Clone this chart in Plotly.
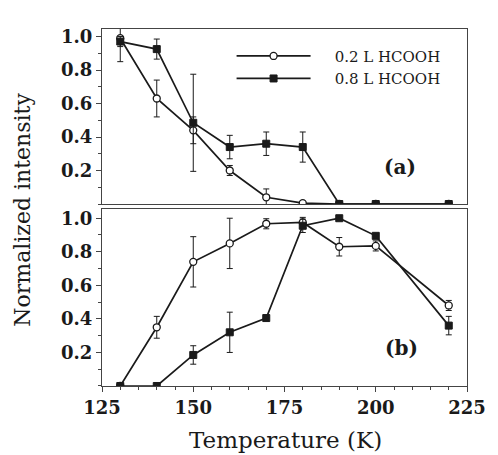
import plotly.graph_objects as go

# ---- data ----
temps = [130, 140, 150, 160, 170, 180, 190, 200, 220]

# panel (a)
a_low = [0.99, 0.63, 0.44, 0.20, 0.04, 0.005, 0.0, 0.0, 0.0]
a_low_err = [0.14, 0.11, 0.08, 0.03, 0.05, 0.0, 0.0, 0.0, 0.0]
a_high = [0.97, 0.925, 0.485, 0.34, 0.36, 0.34, 0.0, 0.0, 0.0]
a_high_err = [0.03, 0.06, 0.29, 0.07, 0.07, 0.09, 0.0, 0.0, 0.0]

# panel (b)
b_low = [0.0, 0.35, 0.74, 0.85, 0.967, 0.975, 0.83, 0.835, 0.48]
b_low_err = [0.0, 0.065, 0.15, 0.15, 0.03, 0.03, 0.055, 0.03, 0.03]
b_high = [0.0, 0.0, 0.185, 0.32, 0.405, 0.955, 1.0, 0.895, 0.36]
b_high_err = [0.0, 0.0, 0.055, 0.12, 0.0, 0.04, 0.0, 0.0, 0.055]

labels = ["0.2 L HCOOH", "0.8 L HCOOH"]
x_ticks = [125, 150, 175, 200, 225]
y_ticks = [0.2, 0.4, 0.6, 0.8, 1.0]

FONT = "DejaVu Serif"
INK = "#1a1a1a"
FRAME = "#444444"
PAD = "\u00a0" * 4

fig = go.Figure()

def err(v):
    return dict(type="data", array=v, visible=True, color=INK, thickness=1, width=3)

open_marker = dict(symbol="circle", size=7, color="white", line=dict(color=INK, width=1.3))
fill_marker = dict(symbol="square", size=7, color=INK, line=dict(color=INK, width=1))
line_style = dict(color=INK, width=1.7)

# top panel (a)
fig.add_trace(go.Scatter(x=temps, y=a_low, error_y=err(a_low_err), mode="lines+markers",
                         marker=open_marker, line=line_style, name=PAD + labels[0],
                         xaxis="x2", yaxis="y2"))
fig.add_trace(go.Scatter(x=temps, y=a_high, error_y=err(a_high_err), mode="lines+markers",
                         marker=fill_marker, line=line_style, name=PAD + labels[1],
                         xaxis="x2", yaxis="y2"))
# bottom panel (b)
fig.add_trace(go.Scatter(x=temps, y=b_low, error_y=err(b_low_err), mode="lines+markers",
                         marker=open_marker, line=line_style, name=labels[0],
                         showlegend=False, xaxis="x", yaxis="y"))
fig.add_trace(go.Scatter(x=temps, y=b_high, error_y=err(b_high_err), mode="lines+markers",
                         marker=fill_marker, line=line_style, name=labels[1],
                         showlegend=False, xaxis="x", yaxis="y"))

tickfont = dict(family=FONT, size=18, color=INK)
common_y = dict(tickvals=y_ticks, ticktext=[f"<b>{v:.1f}</b>" for v in y_ticks],
                ticks="outside", ticklen=5, tickwidth=1, tickcolor=FRAME,
                showline=True, linecolor=FRAME, linewidth=1, mirror=True,
                showgrid=False, zeroline=False, tickfont=tickfont,
                minor=dict(dtick=0.1, ticks="outside", ticklen=3, tickcolor=FRAME))

fig.update_layout(
    width=498, height=455,
    margin=dict(l=102, r=21, t=29, b=69),
    paper_bgcolor="white", plot_bgcolor="white",
    showlegend=True,
    legend=dict(x=0.355, y=0.97, xanchor="left", yanchor="top",
                font=dict(family=FONT, size=15, color=INK),
                bgcolor="rgba(0,0,0,0)", itemwidth=74, tracegroupgap=0,
                itemsizing="trace"),
    xaxis=dict(domain=[0, 1], anchor="y", range=[125, 225], tickvals=x_ticks,
               ticktext=[f"<b>{v}</b>" for v in x_ticks],
               ticks="outside", ticklen=5, tickcolor=FRAME, tickwidth=1,
               showline=True, linecolor=FRAME, linewidth=1, mirror=True,
               showgrid=False, zeroline=False, tickfont=tickfont,
               minor=dict(dtick=5, ticks="outside", ticklen=3, tickcolor=FRAME)),
    yaxis=dict(domain=[0, 0.4958], anchor="x", range=[0, 1.055], **common_y),
    xaxis2=dict(domain=[0, 1], anchor="y2", matches="x", range=[125, 225],
                showticklabels=False, ticks="",
                showline=True, linecolor=FRAME, linewidth=1, mirror=True,
                showgrid=False, zeroline=False),
    yaxis2=dict(domain=[0.5098, 1], anchor="x2", range=[0, 1.045], **common_y),
    annotations=[
        dict(text="<b>(a)</b>", x=206.6, y=0.22, xref="x2", yref="y2", showarrow=False,
             font=dict(family=FONT, size=20, color=INK)),
        dict(text="<b>(b)</b>", x=207.1, y=0.227, xref="x", yref="y", showarrow=False,
             font=dict(family=FONT, size=20, color=INK)),
        dict(text="Normalized intensity", x=-0.218, y=0.495, xref="paper", yref="paper",
             textangle=-90, showarrow=False, xanchor="center", yanchor="middle",
             font=dict(family=FONT, size=22, color=INK)),
        dict(text="Temperature (K)", x=0.504, y=-0.151, xref="paper", yref="paper",
             showarrow=False, xanchor="center", yanchor="middle",
             font=dict(family=FONT, size=23, color=INK)),
    ],
)

fig.write_html("out.html")
